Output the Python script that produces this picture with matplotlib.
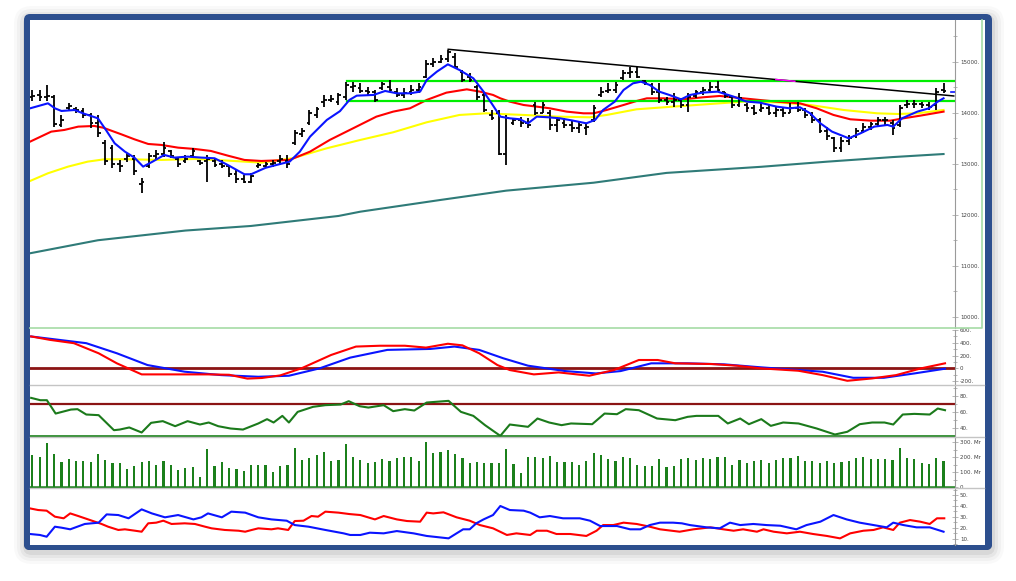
import numpy as np
import matplotlib.pyplot as plt
from matplotlib.patches import FancyBboxPatch, Rectangle
from matplotlib.colors import LinearSegmentedColormap

W, H = 1016, 581

# ---- price bars (weekly OHLC) ----
bars = np.arange(1, 127)
highs = [14440, 14440, 14540, 14347, 13955, 14184, 14119, 14086, 13988, 13955,
         13466, 13368, 13074, 13204, 13172, 12715, 13204, 13270, 13433, 13270,
         13139, 13172, 13315, 13074, 13172, 13107, 13074, 12976, 12878, 12780,
         12813, 13008, 13041, 13074, 13172, 13172, 13662, 13695, 14054, 14119,
         14348, 14348, 14380, 14609, 14609, 14576, 14511, 14445, 14609, 14641,
         14478, 14478, 14543, 14576, 15033, 15066, 15131, 15229, 15164, 14837,
         14772, 14543, 14380, 14054, 14050, 13960, 13890, 13923, 13890, 14217,
         14217, 14054, 13923, 13890, 13858, 13825, 13792, 14151, 14511, 14576,
         14609, 14837, 14889, 14902, 14641, 14576, 14576, 14315, 14380, 14282,
         14380, 14445, 14511, 14609, 14620, 14413, 14315, 14380, 14184, 14151,
         14184, 14151, 14119, 14086, 14184, 14217, 14086, 14021, 13890, 13727,
         13531, 13531, 13564, 13694, 13792, 13825, 13923, 13923, 13858, 14151,
         14249, 14249, 14217, 14217, 14490, 14577]
lows = [14220, 14220, 14220, 13727, 13727, 14053, 13988, 13890, 13694, 13531,
        12976, 12911, 12845, 13041, 12780, 12421, 12911, 13074, 13139, 13107,
        12943, 13008, 13107, 12976, 12649, 12943, 12911, 12747, 12617, 12617,
        12617, 12911, 12911, 12944, 12976, 12911, 13368, 13531, 13760, 13890,
        14119, 14217, 14152, 14250, 14413, 14380, 14348, 14217, 14445, 14413,
        14315, 14282, 14348, 14380, 14674, 14903, 14968, 15000, 14870, 14609,
        14609, 14250, 14021, 13858, 13170, 12975, 13760, 13727, 13694, 13956,
        13988, 13662, 13629, 13694, 13629, 13596, 13564, 13825, 14315, 14380,
        14380, 14641, 14674, 14674, 14543, 14347, 14184, 14151, 14119, 14086,
        14021, 14282, 14347, 14380, 14400, 14282, 14086, 14119, 14021, 13955,
        14021, 13955, 13923, 13923, 13988, 14021, 13890, 13792, 13596, 13466,
        13237, 13237, 13368, 13498, 13596, 13662, 13727, 13760, 13564, 13727,
        14086, 14086, 14086, 14053, 14060, 14380]
opens = [14300, 14340, 14300, 14300, 13760, 14100, 14080, 14040, 13950, 13800,
         13400, 13300, 13000, 13100, 13100, 12600, 12950, 13150, 13200, 13250,
         13100, 13050, 13150, 13050, 13050, 13050, 13000, 12950, 12800, 12700,
         12650, 12950, 12950, 13000, 13050, 13050, 13400, 13580, 13800, 13950,
         14200, 14250, 14200, 14300, 14500, 14480, 14420, 14400, 14480, 14500,
         14400, 14340, 14400, 14450, 14700, 14950, 15000, 15050, 15100, 14800,
         14700, 14500, 14350, 13950, 14000, 13200, 13800, 13850, 13800, 14150,
         14000, 14000, 13750, 13800, 13750, 13700, 13700, 13850, 14350, 14420,
         14450, 14680, 14780, 14800, 14620, 14550, 14400, 14250, 14200, 14250,
         14150, 14320, 14400, 14450, 14500, 14400, 14300, 14150, 14150, 14100,
         14050, 14100, 14000, 14050, 14000, 14100, 14050, 13950, 13850, 13650,
         13500, 13300, 13450, 13550, 13650, 13720, 13780, 13850, 13800, 13750,
         14150, 14180, 14170, 14150, 14150, 14450]
closes = [14330, 14300, 14320, 13780, 13850, 14140, 14050, 13950, 13800, 13600,
          13050, 13000, 12950, 13150, 12850, 12650, 13150, 13200, 13300, 13150,
          13000, 13100, 13250, 13020, 13100, 12980, 12950, 12800, 12700, 12650,
          12750, 12980, 13000, 13020, 13100, 13000, 13600, 13650, 14000, 14080,
          14250, 14260, 14340, 14550, 14520, 14420, 14400, 14250, 14560, 14450,
          14340, 14380, 14450, 14500, 14950, 15000, 15050, 15180, 14900, 14650,
          14640, 14300, 14050, 13900, 13200, 13900, 13850, 13800, 13750, 14000,
          14150, 13750, 13850, 13750, 13700, 13750, 13720, 14100, 14400, 14450,
          14550, 14780, 14800, 14700, 14580, 14400, 14250, 14200, 14250, 14150,
          14300, 14400, 14450, 14500, 14450, 14320, 14150, 14280, 14100, 14000,
          14100, 14000, 14050, 14000, 14100, 14050, 13950, 13850, 13650, 13550,
          13300, 13450, 13500, 13650, 13720, 13780, 13850, 13850, 13700, 14100,
          14180, 14170, 14150, 14120, 14400, 14420]

# ---- moving averages (bar position, value) ----
fast_x = [0.7, 3.15, 4.1, 5, 6.8, 7.95, 10, 11.1, 12.3, 13.7, 15, 16.2, 17.5, 19.1, 20.5,
          22.3, 24.2, 26, 27.8, 30.1, 31, 33, 34.5, 36.3, 37.7, 39.1, 41.4, 43.2, 44.5,
          45.5, 47.8, 49.4, 51, 52.8, 54.2, 55.1, 56.5, 58, 59.6, 61.5, 62.9, 64, 65.2,
          66.5, 67.9, 69, 70.2, 71.8, 73.4, 75.2, 77, 78.2, 79.3, 80.9, 82.1, 83.4, 84.5,
          85.7, 87, 88.4, 90, 91.2, 92.9, 95, 97.2, 99, 100.8, 103.1, 104.9, 106.3, 107.7,
          109.1, 110.7, 113, 114.6, 116.5, 118.3, 119.1, 120.3, 122.4, 124, 125.2, 126]
fast_y = [14086, 14184, 14086, 14034, 14053, 13988, 13890, 13662, 13400, 13237, 13120, 12943,
          13041, 13172, 13120, 13139, 13120, 13107, 12976, 12793, 12793, 12920, 12976, 13041,
          13237, 13531, 13858, 14030, 14250, 14334, 14348, 14426, 14380, 14380, 14413, 14641,
          14805, 14948, 14837, 14674, 14413, 14184, 13923, 13890, 13871, 13792, 13923, 13910,
          13890, 13844, 13792, 13858, 14054, 14217, 14445, 14576, 14608, 14543, 14413, 14347,
          14262, 14347, 14393, 14413, 14315, 14217, 14197, 14119, 14086, 14106, 13988, 13792,
          13629, 13498, 13596, 13727, 13760, 13727, 13890, 14021, 14086, 14217, 14282]
mid_x = [0.7, 3.6, 5.4, 7.3, 9.5, 10.7, 13.2, 15, 16.9, 18.7, 21, 23.3, 25.5, 27.8, 30.1,
         32.4, 36.3, 39.1, 41.8, 45, 48.2, 50.5, 52.8, 55.1, 57.8, 60.6, 62.4, 64.2, 65.2,
         66.5, 68.4, 70.2, 72, 74.3, 76.6, 78, 79.8, 82.1, 83.9, 85.3, 87.6, 90.3, 93, 95.3,
         98.5, 100.8, 103.1, 106.3, 108.6, 110.9, 113.2, 116, 118.7, 120.5, 122.8, 126]
mid_y = [13433, 13629, 13662, 13727, 13740, 13707, 13577, 13479, 13387, 13368, 13315, 13289,
         13250, 13159, 13074, 13054, 13074, 13237, 13466, 13694, 13923, 14021, 14086, 14250,
         14393, 14458, 14413, 14348, 14282, 14217, 14151, 14119, 14086, 14021, 13988, 13988,
         14054, 14151, 14230, 14282, 14282, 14262, 14302, 14328, 14282, 14249, 14217, 14184,
         14086, 13956, 13871, 13844, 13844, 13890, 13942, 14021]
slow_x = [0.7, 3.15, 5.9, 8.6, 10.9, 14.1, 18.7, 23.3, 27.8, 32.4, 36.7, 41.4, 46, 50.5,
          55.1, 59.6, 63.3, 65.1, 68.4, 73, 77.5, 79.8, 83.9, 88.9, 95.3, 98.5, 103.1,
          107.7, 112.3, 116.9, 119.7, 122.4, 126]
slow_y = [12662, 12813, 12943, 13041, 13087, 13087, 13074, 13093, 13061, 13021, 13107, 13303,
          13466, 13616, 13812, 13956, 13988, 13975, 13956, 13923, 13910, 13956, 14067, 14119,
          14184, 14217, 14204, 14151, 14053, 13988, 13975, 13988, 14053]
long_x = [0.7, 10, 22, 31, 43, 46, 57, 66, 78, 88, 101, 110, 119, 126]
long_y = [11245, 11500, 11690, 11780, 11976, 12060, 12290, 12472, 12628, 12820, 12940, 13040,
          13130, 13190]

zone_levels = [14628, 14230]
zone_start = 44.1
trend_x = [58.05, 127.4]
trend_y = [15243, 14328]

# ---- MACD ----
macd_x = [0.84, 3.4, 6.7, 10.1, 12.6, 16, 21, 25.2, 28, 30.5, 32.5, 35, 37.9, 42, 45.4,
          48.7, 52.1, 55, 58, 60, 62.3, 64.8, 66.5, 69.8, 73.2, 77.4, 80.8, 84.2, 86.8,
          89.2, 94.2, 97.6, 101, 106.1, 109.4, 112.8, 116.2, 119.5, 122.9, 126.2]
macd_y = [499, 446, 394, 236, 79, -94, -94, -94, -100, -160, -150, -110, 0, 210, 341,
          354, 354, 325, 385, 360, 236, 52, -26, -94, -63, -115, -26, 131, 131,
          79, 68, 42, 0, -37, -105, -194, -157, -105, 0, 79]
sig_x = [0.84, 8.4, 12.6, 16.8, 21.9, 26.9, 32, 36.2, 40.4, 44.6, 49.7, 55.6, 58.9, 62.3,
         65.6, 69, 74.1, 78.3, 81.7, 85.9, 90.9, 95.9, 101, 106.1, 109.4, 113.6, 117.8,
         122, 126.2]
sig_y = [499, 394, 236, 52, -52, -105, -131, -115, 0, 168, 289, 304, 341, 289, 158, 42,
         -42, -79, -42, 79, 79, 63, 16, -26, -52, -147, -147, -79, -5]

# ---- RSI ----
rsi_x = [0.84, 2.1, 3.0, 4.2, 6.3, 7.2, 8.4, 10.1, 12.2, 13.0, 14.3, 16, 17.3, 18.9, 20.6,
         22.3, 24, 25.2, 26.5, 28.2, 29.9, 32, 33.2, 34.1, 35.3, 36.2, 37.4, 39.5, 41.2,
         43.3, 44.4, 45.9, 47.1, 49.2, 50.5, 52.1, 53.4, 55.1, 58.1, 59.8, 61.5, 63.1,
         65.2, 66.5, 69, 70.3, 71.9, 73.6, 74.9, 77.8, 79.5, 81.2, 82.4, 84.2, 86.7, 89.2,
         90.9, 92.1, 95.1, 96.4, 98.1, 99.3, 101, 102.3, 104, 106.1, 108.6, 111.1, 112.8,
         114.5, 116.2, 117.9, 119.1, 120.4, 122, 124.1, 125.2, 126.2]
rsi_y = [77.4, 74.5, 74.5, 57.8, 62.8, 63.3, 56.6, 55.8, 37, 37.8, 40.4, 34.1, 46.2, 48.3,
         42, 48.3, 44.1, 46.6, 42, 39.1, 37.8, 45.4, 50.8, 46.6, 54.9, 46.6, 59.9, 66.2,
         68.3, 69.1, 73.3, 67, 65.3, 68.3, 60.8, 63.3, 61.6, 71.6, 73.7, 59.9, 54.9, 43.3,
         29.9, 44.1, 41.2, 51.6, 46.6, 43.3, 45.4, 44.5, 57.8, 57, 63.3, 62, 51.6, 49.5,
         53.7, 54.9, 54.9, 45.4, 51.6, 44.5, 50.8, 42.4, 46.6, 45.4, 39.1, 31.6, 35,
         44.5, 46.6, 46.6, 44.1, 56.6, 57.4, 56.6, 64.1, 62]

# ---- volume, millions ----
volume = [218, 200, 293, 222, 171, 191, 173, 178, 171, 224,
          184, 162, 162, 124, 144, 169, 178, 147, 178, 147,
          113, 127, 135, 67, 253, 140, 169, 131, 120, 109,
          149, 151, 147, 104, 144, 147, 264, 182, 198, 215,
          238, 175, 184, 286, 204, 184, 164, 171, 187, 173,
          193, 202, 200, 175, 306, 226, 238, 246, 222, 193,
          160, 169, 160, 164, 162, 253, 153, 95, 204, 204,
          193, 211, 171, 171, 169, 151, 175, 231, 218, 189,
          175, 204, 198, 149, 144, 140, 189, 133, 138, 189,
          193, 184, 193, 191, 204, 204, 151, 184, 160, 178,
          184, 164, 184, 193, 193, 209, 178, 178, 164, 173,
          162, 171, 173, 198, 200, 189, 191, 189, 184, 260,
          195, 187, 164, 158, 198, 173]

# ---- DMI ----
pdi_x = [0.68, 1.8, 2.97, 4.1, 5.3, 6.2, 7.3, 10.5, 11.4, 12.8, 13.7, 15.1, 16, 16.9, 18,
         18.97, 20.1, 21.9, 23.3, 24.7, 25.6, 27.4, 29.3, 30.2, 31.1, 32, 33.8, 34.7, 36.1,
         37, 38.2, 39.3, 40.2, 41.2, 43, 44.5, 46, 48, 49.2, 51, 52.4, 54.2, 55.1, 56,
         57.4, 59.2, 61, 62.4, 64.2, 66.1, 67.4, 69.3, 70.2, 71.6, 72.9, 74.8, 77, 78.4,
         79.3, 80.7, 82.1, 83.9, 85.7, 87.1, 89.8, 91.7, 94, 95.8, 97.2, 98.5, 100.4,
         101.3, 102.7, 104.5, 106.3, 108.1, 110, 111.8, 113.2, 115, 116.4, 117.7, 119.1,
         120, 121.4, 122.8, 124.1, 125.1, 126.1]
pdi_y = [37.7, 36.2, 35.6, 30.1, 28.6, 33.1, 30.7, 23.4, 20.9, 17.9, 18.5, 17.2, 16.3, 24,
         24.6, 26.4, 23.4, 24, 23.4, 20.9, 19.4, 17.9, 17.2, 16.3, 17.9, 19.4, 18.5, 19.4,
         17.9, 26.1, 26.4, 30.7, 30.1, 34.7, 33.8, 32.5, 31.6, 27.6, 30.7, 27.6, 26.1, 25.5,
         33.8, 33.1, 34.1, 29.5, 26.4, 22.4, 19.4, 13.3, 14.8, 13.3, 17.2, 17.2, 14.2, 14.2,
         12.4, 17.2, 22.4, 22.4, 24.6, 23.4, 20.9, 18.5, 16.3, 18.5, 20.3, 18.5, 17.2, 18.5,
         16.3, 18.5, 16.3, 14.8, 16.3, 14.2, 12.4, 10.2, 14.8, 17.2, 17.9, 20.3, 17.9, 24.6,
         27, 25.5, 23.4, 28.6, 28.6]
mdi_x = [0.68, 2.05, 2.97, 4.1, 5, 6.2, 8.2, 10.1, 11.2, 12.8, 14.2, 16, 17.4, 19.2, 21,
         23.1, 24.2, 25.1, 27, 28.3, 30.2, 32, 33.8, 35.9, 37, 38.9, 41.2, 43.7, 44.6, 46,
         47.3, 49.2, 51, 53.3, 55.1, 58.1, 59.2, 60.1, 61, 61.9, 62.9, 64.2, 65.2, 66.5,
         68.4, 69.3, 70.6, 72, 73.8, 76.1, 77.5, 78.9, 81.2, 83, 84.4, 85.7, 87.1, 88.9,
         90.1, 91.2, 93.5, 95.3, 96.7, 98.1, 99.9, 101.7, 103.6, 105.8, 107.2, 109.1,
         110.9, 112.7, 114.5, 116.4, 118.2, 119.1, 120.5, 122.3, 124.1, 126]
mdi_y = [14.2, 13.3, 11.7, 20.9, 20, 18.5, 23.4, 24.6, 32.2, 31.6, 28.6, 36.8, 33.1, 29.5,
         31.6, 27.6, 29.5, 33.1, 29.5, 34.7, 33.8, 29.5, 27.6, 26.4, 22.4, 20.9, 17.9, 14.8,
         13.3, 13.3, 15.4, 14.8, 16.9, 14.8, 12.4, 10.2, 14.8, 18.5, 18.5, 24, 27.6, 31.6,
         39.9, 36.2, 35.6, 33.8, 29.5, 30.7, 28.6, 28.6, 26.4, 21.5, 21.5, 18.5, 18.5, 22.4,
         24.6, 24.6, 24, 22.4, 20.3, 19.4, 24.6, 22.4, 23.4, 22.4, 21.8, 18.5, 22.4, 25.5,
         31.6, 27.6, 24.6, 22.4, 20.3, 24.6, 22.4, 20.3, 20.3, 16.3]

XL, XR = 0.684, 127.57


def label_fmt(v, unit=''):
    if v == 0:
        return '0'
    return f'{int(v)}.{unit}'


fig = plt.figure(figsize=(W / 100, H / 100), dpi=100)
fig.patch.set_facecolor('white')

# background: shadow, blue frame, white sheet
bg = fig.add_axes([0, 0, 1, 1])
bg.set_xlim(0, W)
bg.set_ylim(H, 0)
bg.axis('off')
for k, a in [(12, 0.025), (9, 0.035), (6, 0.05), (3, 0.07)]:
    bg.add_patch(FancyBboxPatch((24 - k + 2, 14 - k + 4), 968 + 2 * k - 2, 536 + 2 * k - 2,
                                boxstyle=f'round,pad=0,rounding_size={6 + k}',
                                fc='#202020', ec='none', alpha=a))
frame = FancyBboxPatch((24, 14), 968, 536, boxstyle='round,pad=0,rounding_size=6',
                       fc='#2d4f8e', ec='none')
bg.add_patch(frame)
cmap = LinearSegmentedColormap.from_list('frame', ['#2a4884', '#87a2d6', '#8aa6da', '#5c7dbd', '#2a4884'])
grad = np.linspace(0, 1, 400).reshape(1, -1)
im = bg.imshow(grad, cmap=cmap, extent=(24, 992, 550, 544), aspect='auto')
im.set_clip_path(frame)
bg.add_patch(Rectangle((30, 20), 955, 525, fc='white', ec='none'))


def panel(y0, y1, lo, hi):
    ax = fig.add_axes([30 / W, 1 - y1 / H, (955 - 30) / W, (y1 - y0) / H])
    ax.set_xlim(XL, XR)
    ax.set_ylim(lo, hi)
    ax.set_facecolor('white')
    for s in ['left', 'top', 'bottom']:
        ax.spines[s].set_visible(False)
    ax.spines['right'].set_color('#9a9a9a')
    ax.spines['right'].set_linewidth(0.8)
    ax.yaxis.tick_right()
    ax.tick_params(axis='y', which='both', direction='inout', colors='#9a9a9a',
                   labelcolor='#404040', labelsize=4, pad=1.5, width=0.5)
    ax.tick_params(axis='y', which='major', length=4)
    ax.tick_params(axis='y', which='minor', length=2.5)
    ax.set_xticks([])
    return ax


# ---- main price panel ----
ax = panel(20, 328, 9780, 15817)
ax.plot(long_x, long_y, color='#2f7b78', lw=1.5)
ax.plot(slow_x, slow_y, color='#ffff00', lw=1.5)
ax.plot(mid_x, mid_y, color='#ff0000', lw=1.5)
for lvl in zone_levels:
    ax.plot([zone_start, XR], [lvl, lvl], color='#00ee00', lw=1.6)
ax.plot(trend_x, trend_y, color='black', lw=1.1)
tx = np.array([103.0, 105.6])
ty = np.interp(tx, trend_x, trend_y)
ax.plot(tx, ty, color='#ff00ff', lw=1.1)
ax.vlines(bars, lows, highs, color='black', lw=1.3)
ax.hlines(opens, bars - 0.38, bars, color='black', lw=1.3)
ax.hlines(closes, bars, bars + 0.38, color='black', lw=1.3)
ax.plot(fast_x, fast_y, color='#0a14ff', lw=1.5)
ax.plot([127.0, XR], [14400, 14400], color='#0a14ff', lw=1.2)
ax.set_yticks(range(10000, 15001, 1000))
ax.set_yticklabels([label_fmt(v) for v in range(10000, 15001, 1000)])
ax.set_yticks(range(10000, 15501, 500), minor=True)

# ---- MACD ----
ax2 = panel(330, 384.5, -252, 598)
ax2.axhline(0, color='#8b1414', lw=2)
ax2.plot(sig_x, sig_y, color='#0a14ff', lw=1.5)
ax2.plot(macd_x, macd_y, color='#ff0000', lw=1.5)
ax2.set_yticks([-200, 0, 200, 400, 600])
ax2.set_yticklabels([label_fmt(v) for v in [-200, 0, 200, 400, 600]])
ax2.set_yticks(range(-200, 601, 100), minor=True)

# ---- RSI ----
ax3 = panel(385.5, 436.5, 29.1, 92.9)
ax3.axhline(70, color='#8b1414', lw=1.6)
ax3.axhline(30, color='#2a8a2a', lw=2)
ax3.plot(rsi_x, rsi_y, color='#1b7a1b', lw=1.5)
ax3.set_yticks([40, 60, 80])
ax3.set_yticklabels([label_fmt(v) for v in [40, 60, 80]])
ax3.set_yticks(range(40, 91, 10), minor=True)

# ---- volume ----
ax4 = panel(437.5, 488, -6.7, 333)
ax4.bar(bars, volume, width=0.3, color='#1b801b')
ax4.axhline(0, color='#1b801b', lw=1.8)
ax4.set_yticks([0, 100, 200, 300])
ax4.set_yticklabels([label_fmt(v, ' Mr') for v in [0, 100, 200, 300]])
ax4.set_yticks(range(0, 331, 50), minor=True)

# ---- DMI ----
ax5 = panel(489, 545, 4.1, 55.5)
ax5.plot(pdi_x, pdi_y, color='#ff0000', lw=1.5)
ax5.plot(mdi_x, mdi_y, color='#0a14ff', lw=1.5)
ax5.set_yticks([10, 20, 30, 40, 50])
ax5.set_yticklabels([label_fmt(v) for v in [10, 20, 30, 40, 50]])
ax5.set_yticks(range(5, 56, 5), minor=True)

# separators and panel border
ov = fig.add_axes([0, 0, 1, 1])
ov.set_xlim(0, W)
ov.set_ylim(H, 0)
ov.axis('off')
ov.patch.set_alpha(0)
ov.plot([30, 982, 982], [328, 328, 20], color='#a6dca6', lw=1.2)
for yy in [384.8, 436.8, 488.4]:
    ov.plot([30, 984], [yy, yy], color='#c4c4c4', lw=1.0)

fig.savefig('out.png', dpi=100)
